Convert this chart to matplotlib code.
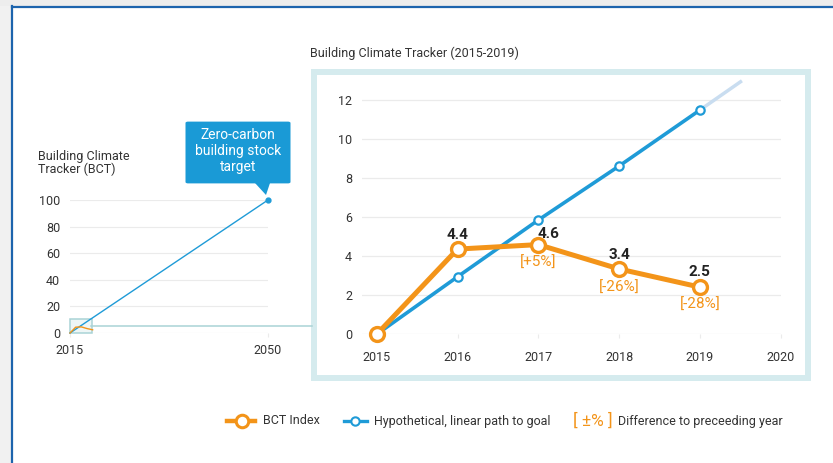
import matplotlib
matplotlib.use('Agg')
import matplotlib.pyplot as plt
from matplotlib.patches import Rectangle, FancyBboxPatch, Polygon
from matplotlib.lines import Line2D

plt.rcParams['font.family'] = ['Roboto', 'DejaVu Sans']

# data
years = [2015, 2016, 2017, 2018, 2019]
bct_index = [0, 4.37, 4.6, 3.35, 2.42]
linear_path = [0, 2.95, 5.86, 8.63, 11.5]
path_ext_years = [2019, 2019.52]
path_ext = [11.5, 13.0]
bct_labels = ['', '4.4', '4.6', '3.4', '2.5']
pct_labels = ['', '', '[+5%]', '[-26%]', '[-28%]']
goal_years = [2015, 2050]
goal_values = [0, 100]
overview_yticks = [0, 20, 40, 60, 80, 100]
detail_yticks = [0, 2, 4, 6, 8, 10, 12]
detail_xticks = [2015, 2016, 2017, 2018, 2019, 2020]

ORANGE = '#f39419'
BLUE = '#1f9bd7'
TEAL = '#d5ebee'
GRID = '#ebebeb'
TXT = '#333333'

W, H = 833, 463
fig = plt.figure(figsize=(W / 100, H / 100), dpi=100)


def fx(px):
    return px / W


def fy(py):
    return 1 - py / H


# page frame: soft shadow + blue border on top/left
fig.patches.append(Rectangle((0, 0), fx(11), 1, transform=fig.transFigure,
                             facecolor='#f1f1f1', edgecolor='none', zorder=-3))
fig.patches.append(Rectangle((0, fy(6)), 1, 1 - fy(6), transform=fig.transFigure,
                             facecolor='#ededed', edgecolor='none', zorder=-3))
fig.add_artist(Line2D([fx(11.5), fx(11.5)], [0, fy(6)], color='#1d64ad', lw=1.6,
                      transform=fig.transFigure))
fig.add_artist(Line2D([fx(11.5), 1], [fy(6.5), fy(6.5)], color='#1d64ad', lw=1.6,
                      transform=fig.transFigure))

# ---- overview axes 2015-2050 ----
ax1 = fig.add_axes([fx(70), fy(333), fx(268) - fx(70), fy(200) - fy(333)])
ax1.set_xlim(2015, 2050)
ax1.set_ylim(0, 100)
for s in ax1.spines.values():
    s.set_visible(False)
ax1.set_yticks(overview_yticks)
ax1.set_xticks(goal_years)
ax1.tick_params(labelsize=9, colors=TXT)
ax1.tick_params(axis='y', length=0, pad=7)
ax1.tick_params(axis='x', length=3, color=GRID, pad=5)
ax1.grid(axis='y', color=GRID, lw=0.8)
ax1.set_axisbelow(True)
ax1.patch.set_alpha(0)
ax1.add_patch(Rectangle((2015, 0), 3.9, 10.5, facecolor='#eef6f6', edgecolor='#a9d3d6',
                        lw=1.1, zorder=1, clip_on=False))
ax1.plot(goal_years, goal_values, color=BLUE, lw=1.0, zorder=3, clip_on=False)
ax1.plot(goal_years[1:], goal_values[1:], 'o', color=BLUE, ms=3.5, zorder=3, clip_on=False)
ax1.plot(years, bct_index, color=ORANGE, lw=1.0, zorder=3, clip_on=False)

fig.text(fx(38), fy(163), 'Building Climate\nTracker (BCT)', fontsize=9, color=TXT,
         ha='left', va='center', linespacing=1.0)

# callout
fig.patches.append(FancyBboxPatch((fx(188), fy(182)), fx(100), fy(123) - fy(182),
                                  boxstyle='round,pad=0.003', transform=fig.transFigure,
                                  facecolor='#1a9ad6', edgecolor='none', zorder=5))
fig.patches.append(Polygon([(fx(255), fy(183)), (fx(270), fy(183)), (fx(266), fy(195))],
                           closed=True, transform=fig.transFigure,
                           facecolor='#1a9ad6', edgecolor='none', zorder=5))
fig.text(fx(238), fy(151), 'Zero-carbon\nbuilding stock\ntarget', color='white',
         fontsize=10, ha='center', va='center', linespacing=1.15, zorder=6)

# connector to the zoomed panel
fig.add_artist(Line2D([fx(91), fx(312)], [fy(325.7), fy(325.7)], color='#a9d3d6', lw=1.1,
                      transform=fig.transFigure))

# ---- detail panel frame ----
fig.patches.append(Rectangle((fx(314), fy(378)), fx(808) - fx(314), fy(71.7) - fy(378),
                             transform=fig.transFigure, facecolor='white',
                             edgecolor=TEAL, lw=4.3, zorder=-1))
fig.text(fx(310), fy(53), 'Building Climate Tracker (2015-2019)', fontsize=9,
         color=TXT, ha='left', va='center')

# ---- detail axes 2015-2020 ----
ax2 = fig.add_axes([fx(361.7), fy(334.3), fx(780.7) - fx(361.7), fy(80.8) - fy(334.3)])
ax2.set_xlim(2014.814, 2020)
ax2.set_ylim(0, 13)
for s in ax2.spines.values():
    s.set_visible(False)
ax2.patch.set_alpha(0)
ax2.set_yticks(detail_yticks)
ax2.set_xticks(detail_xticks)
ax2.tick_params(labelsize=9, colors=TXT)
ax2.tick_params(axis='y', length=0, pad=7)
ax2.tick_params(axis='x', length=3, color=GRID, pad=9)
ax2.grid(axis='y', color=GRID, lw=0.9)
ax2.set_axisbelow(True)

ax2.plot(path_ext_years, path_ext, color='#c9ddf0', lw=2.5, zorder=2, clip_on=False,
         solid_capstyle='butt')
ax2.plot(years, linear_path, color=BLUE, lw=2.6, marker='o', ms=6,
         mfc='white', mec=BLUE, mew=1.6, zorder=3, clip_on=False)
ax2.plot(years, bct_index, color=ORANGE, lw=3.6, marker='o', ms=10,
         mfc='white', mec=ORANGE, mew=2.4, zorder=4, clip_on=False)

label_offsets = [(0, 0), (0, 10), (7.2, 7.4), (0, 10), (0, 10.8)]
for yr, v, lab, off in zip(years, bct_index, bct_labels, label_offsets):
    if lab:
        ax2.annotate(lab, (yr, v), xytext=off, textcoords='offset points',
                     ha='center', va='center', fontsize=11, fontweight='bold',
                     color='#222222', zorder=6)
pct_offsets = [0, 0, -13.2, -13.5, -12.7]
for yr, v, lab, off in zip(years, bct_index, pct_labels, pct_offsets):
    if lab:
        ax2.annotate(lab, (yr, v), xytext=(0, off), textcoords='offset points',
                     ha='center', va='center', fontsize=11, color=ORANGE, zorder=6)

# ---- legend ----
ly = fy(421)
fig.add_artist(Line2D([fx(227), fx(255)], [ly, ly], color=ORANGE, lw=3.2,
                      transform=fig.transFigure))
fig.add_artist(Line2D([fx(241.5)], [ly], marker='o', ms=9, mfc='white', mec=ORANGE,
                      mew=2.2, transform=fig.transFigure))
fig.text(fx(263), ly, 'BCT Index', fontsize=9, color=TXT, ha='left', va='center')
fig.add_artist(Line2D([fx(343.5), fx(367)], [ly, ly], color=BLUE, lw=2.4,
                      transform=fig.transFigure))
fig.add_artist(Line2D([fx(355)], [ly], marker='o', ms=6, mfc='white', mec=BLUE,
                      mew=1.5, transform=fig.transFigure))
fig.text(fx(374), ly, 'Hypothetical, linear path to goal', fontsize=9, color=TXT,
         ha='left', va='center')
fig.text(fx(593), ly, '[ \u00b1% ]', fontsize=12.5, color=ORANGE, ha='center', va='center')
fig.text(fx(618), ly, 'Difference to preceeding year', fontsize=9, color=TXT,
         ha='left', va='center')

fig.savefig('out.png', dpi=100)
